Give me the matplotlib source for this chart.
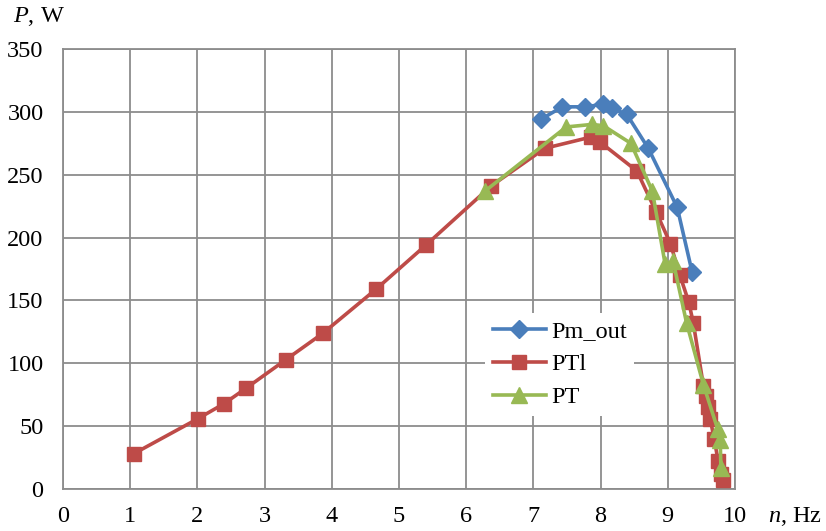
import matplotlib.pyplot as plt

plt.rcParams['font.family'] = ['Liberation Serif', 'DejaVu Serif']
plt.rcParams['mathtext.fontset'] = 'custom'
plt.rcParams['mathtext.rm'] = 'Liberation Serif'
plt.rcParams['mathtext.it'] = 'Liberation Serif:italic'

# Pm_out
n_pm = [7.11, 7.43, 7.77, 8.04, 8.17, 8.39, 8.71, 9.14, 9.36]
p_pm = [294, 304, 304, 306, 303, 298, 271, 224, 173]

# PTl
n_ptl = [1.05, 2.01, 2.40, 2.72, 3.32, 3.87, 4.66, 5.40, 6.37, 7.17, 7.86, 7.99,
         8.54, 8.83, 9.04, 9.18, 9.31, 9.38, 9.53, 9.57, 9.60, 9.63, 9.69, 9.75,
         9.79, 9.82]
p_ptl = [28, 56, 68, 80, 103, 124, 159, 194, 241, 271, 280, 276,
         253, 220, 195, 170, 149, 132, 82, 74, 65, 56, 40, 22, 12, 7]

# PT
n_pt = [6.28, 7.49, 7.87, 8.04, 8.45, 8.77, 8.96, 9.08, 9.28, 9.53, 9.74, 9.78, 9.79]
p_pt = [237, 288, 290, 289, 275, 237, 179, 181, 132, 83, 48, 39, 17]

fs = 17.5
fig = plt.figure(figsize=(8.26, 5.31), dpi=100)
ax = fig.add_axes([63/826, 42/531, 672/826, 440/531])

ax.plot(n_pm, p_pm, color='#4A7EBB', lw=2.6, marker='D', ms=9.5, label='Pm_out', zorder=3)
ax.plot(n_ptl, p_ptl, color='#BE4B48', lw=2.6, marker='s', ms=10.5, label='PTl', zorder=3)
ax.plot(n_pt, p_pt, color='#98B954', lw=2.6, marker='^', ms=11, label='PT', zorder=4)

ax.set_xlim(0, 10)
ax.set_ylim(0, 350)
ax.set_xticks(range(0, 11))
ax.set_yticks(range(0, 351, 50))
ax.grid(True, color='#8C8C8C', lw=1.3)
ax.set_axisbelow(True)
for s in ax.spines.values():
    s.set_color('#8C8C8C')
    s.set_linewidth(1.3)
ax.tick_params(length=0, labelsize=fs, colors='black')
ax.tick_params(axis='y', pad=14)
ax.tick_params(axis='x', pad=12)

fig.text(13/826, 1 - 17/531, '$\\mathit{P}$, W', fontsize=fs, ha='left', va='center')
fig.text(768/826, 1 - 516/531, '$\\mathit{n}$, Hz', fontsize=fs, ha='left', va='center')

leg = ax.legend(loc='center', bbox_to_anchor=(0.739, 0.283), frameon=True, fontsize=fs,
                handlelength=2.2, handletextpad=0.2, labelspacing=0.45, borderpad=0.3)
leg.get_frame().set_edgecolor('none')
leg.get_frame().set_facecolor('white')
leg.get_frame().set_alpha(1)

fig.savefig('out.png', dpi=100)
